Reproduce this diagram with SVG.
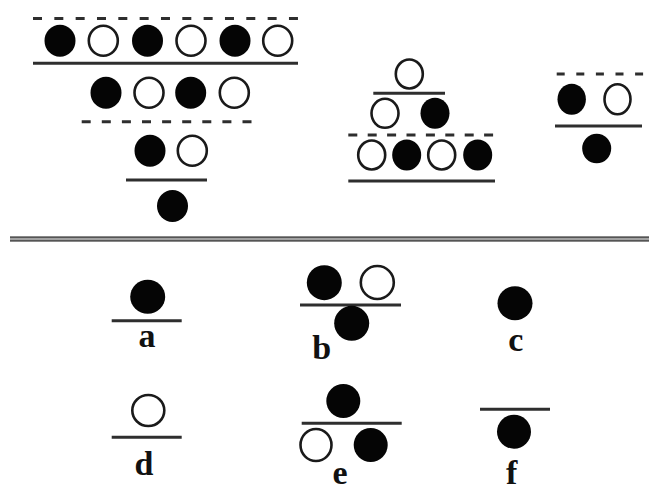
<svg xmlns="http://www.w3.org/2000/svg" width="649" height="496" viewBox="0 0 649 496">
<style>
.f{fill:#050505}
.o{fill:#fff;stroke:#1a1a1a;stroke-width:2.6}
.s{stroke:#2e2e2e;stroke-width:3;fill:none}
.d{stroke:#2e2e2e;stroke-width:3;fill:none;stroke-dasharray:9 11.5}
.lbl{font-family:"Liberation Serif","Times New Roman",serif;font-weight:bold;font-size:34px;fill:#111;text-anchor:middle}
</style>
<rect width="649" height="496" fill="#fff"/>

<g id="figure-1">
<line class="d" x1="33" y1="18.5" x2="298" y2="18.5" style="stroke-dasharray:9 12.33"/>
<ellipse class="f" cx="60" cy="40.7" rx="15.5" ry="16"/>
<ellipse class="o" cx="103.3" cy="40.7" rx="14.5" ry="15"/>
<ellipse class="f" cx="147.5" cy="40.7" rx="15.5" ry="16"/>
<ellipse class="o" cx="191" cy="40.7" rx="14.5" ry="15"/>
<ellipse class="f" cx="235" cy="40.7" rx="15.5" ry="16"/>
<ellipse class="o" cx="277.7" cy="40.7" rx="14.5" ry="15"/>
<line class="s" x1="33" y1="63.3" x2="298" y2="63.3"/>
<ellipse class="f" cx="106" cy="92.7" rx="15.5" ry="16"/>
<ellipse class="o" cx="149" cy="92.7" rx="14.5" ry="15"/>
<ellipse class="f" cx="190.7" cy="92.7" rx="15.5" ry="16"/>
<ellipse class="o" cx="234.3" cy="92.7" rx="14.5" ry="15"/>
<line class="d" x1="81.7" y1="121.7" x2="251.7" y2="121.7" style="stroke-dasharray:9 11.1"/>
<ellipse class="f" cx="150" cy="150.7" rx="15.5" ry="16"/>
<ellipse class="o" cx="192.3" cy="150.7" rx="14.5" ry="15"/>
<line class="s" x1="126" y1="180" x2="207" y2="180"/>
<ellipse class="f" cx="172.5" cy="206" rx="15.5" ry="16"/>
</g>

<g id="figure-2">
<ellipse class="o" cx="409.3" cy="74" rx="13.5" ry="14.5"/>
<line class="s" x1="373.3" y1="93.3" x2="445" y2="93.3"/>
<ellipse class="o" cx="385" cy="113.3" rx="13.5" ry="14.5"/>
<ellipse class="f" cx="435" cy="113.3" rx="14.5" ry="15.5"/>
<line class="d" x1="348.3" y1="135" x2="495" y2="135" style="stroke-dasharray:9 10.4"/>
<ellipse class="o" cx="371.7" cy="155" rx="13.5" ry="14.5"/>
<ellipse class="f" cx="406.7" cy="155" rx="14.5" ry="15.5"/>
<ellipse class="o" cx="441.7" cy="155" rx="13.5" ry="14.5"/>
<ellipse class="f" cx="477.7" cy="155" rx="14.5" ry="15.5"/>
<line class="s" x1="348.3" y1="181" x2="495" y2="181"/>
</g>

<g id="figure-3">
<line class="d" x1="556.7" y1="74" x2="643.3" y2="74" style="stroke-dasharray:8 11.6"/>
<ellipse class="f" cx="571.7" cy="99.3" rx="14.2" ry="15.5"/>
<ellipse class="o" cx="617.5" cy="99.3" rx="13" ry="15"/>
<line class="s" x1="555" y1="126" x2="642" y2="126"/>
<ellipse class="f" cx="596.7" cy="148.5" rx="14.5" ry="14.8"/>
</g>

<g id="separator">
<rect x="10" y="236" width="639" height="6" fill="#bdbdbd"/>
<line x1="10" y1="237.4" x2="649" y2="237.4" stroke="#555" stroke-width="1.8"/>
<line x1="10" y1="240.6" x2="649" y2="240.6" stroke="#555" stroke-width="1.8"/>
</g>

<g id="option-a">
<ellipse class="f" cx="147.7" cy="296.7" rx="17.5" ry="17"/>
<line class="s" x1="111.7" y1="320.7" x2="181.7" y2="320.7"/>
<text class="lbl" x="147" y="347">a</text>
</g>

<g id="option-b">
<ellipse class="f" cx="324.3" cy="282.7" rx="17.5" ry="17.5"/>
<ellipse class="o" cx="377.3" cy="282.5" rx="16.5" ry="16.5"/>
<line class="s" x1="300" y1="305" x2="401" y2="305"/>
<ellipse class="f" cx="351.7" cy="323.3" rx="17.5" ry="17.5"/>
<text class="lbl" x="321.7" y="359">b</text>
</g>

<g id="option-c">
<ellipse class="f" cx="515" cy="303.3" rx="17.5" ry="17"/>
<text class="lbl" x="515.7" y="351">c</text>
</g>

<g id="option-d">
<ellipse class="o" cx="148.3" cy="410.5" rx="16" ry="15.5"/>
<line class="s" x1="111.7" y1="437.3" x2="181.7" y2="437.3"/>
<text class="lbl" x="144" y="475">d</text>
</g>

<g id="option-e">
<ellipse class="f" cx="343.3" cy="401" rx="17" ry="17"/>
<line class="s" x1="301.7" y1="423.3" x2="401.7" y2="423.3"/>
<ellipse class="o" cx="316" cy="445" rx="15.5" ry="16"/>
<ellipse class="f" cx="370.7" cy="445" rx="17" ry="17"/>
<text class="lbl" x="340" y="484">e</text>
</g>

<g id="option-f">
<line class="s" x1="480" y1="409.3" x2="550" y2="409.3"/>
<ellipse class="f" cx="514" cy="431.7" rx="17" ry="17"/>
<text class="lbl" x="511.7" y="484">f</text>
</g>
</svg>
